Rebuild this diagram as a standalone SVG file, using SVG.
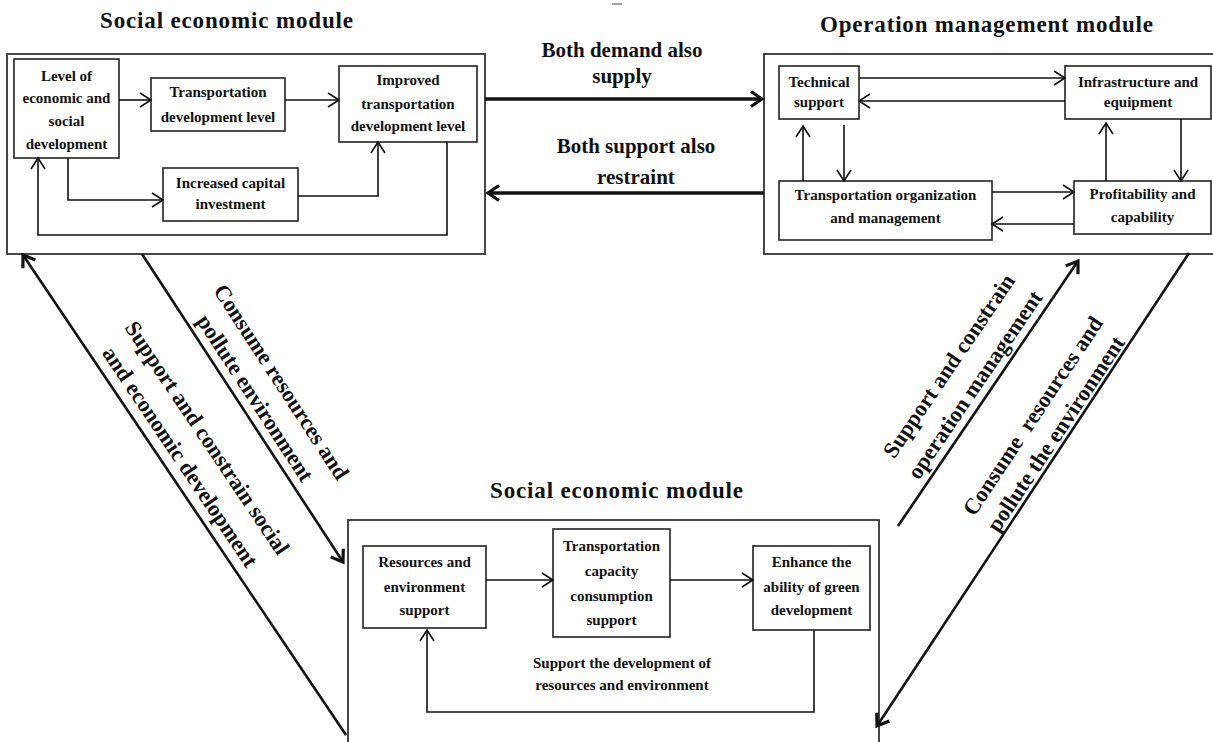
<svg xmlns="http://www.w3.org/2000/svg" width="1213" height="742" viewBox="0 0 1213 742">
<style>
  .box { fill: #fff; stroke: #222; stroke-width: 1.6; }
  .outer { fill: none; stroke: #333; stroke-width: 1.8; }
  .t { font-family: "Liberation Serif", "Times New Roman", serif; font-weight: bold; font-size: 15px; fill: #111; text-anchor: middle; }
  .title { font-family: "Liberation Serif", "Times New Roman", serif; font-weight: bold; font-size: 23px; fill: #111; text-anchor: middle; }
  .mid { font-family: "Liberation Serif", "Times New Roman", serif; font-weight: bold; font-size: 21px; fill: #111; text-anchor: middle; }
  .diag { font-family: "Liberation Serif", "Times New Roman", serif; font-weight: bold; font-size: 22.5px; fill: #111; text-anchor: middle; }
  .c { fill: none; stroke: #111; stroke-width: 1.6; }
  .thick { fill: none; stroke: #111; stroke-width: 3.5; }
  .dg { fill: none; stroke: #111; stroke-width: 2.6; }
</style>
<defs>
  <marker id="a" markerUnits="userSpaceOnUse" markerWidth="16" markerHeight="18" refX="0" refY="0" orient="auto" overflow="visible">
    <path d="M-11,-7 L0,0 L-11,7" fill="none" stroke="#111" stroke-width="1.6"/>
  </marker>
  <marker id="b" markerUnits="userSpaceOnUse" markerWidth="16" markerHeight="18" refX="0" refY="0" orient="auto" overflow="visible">
    <path d="M-11,-7.5 L0,0 L-11,7.5" fill="none" stroke="#111" stroke-width="3.2"/>
  </marker>
</defs>
<rect width="1213" height="742" fill="#fff"/>

<line x1="612" y1="4" x2="622" y2="4" stroke="#666" stroke-width="1.2"/>

<!-- Titles -->
<text class="title" x="226.5" y="28" textLength="253" lengthAdjust="spacing">Social economic module</text>
<text class="title" x="986.5" y="32" textLength="333" lengthAdjust="spacing">Operation management module</text>
<text class="title" x="616.5" y="498" textLength="253" lengthAdjust="spacing">Social economic module</text>

<!-- Module frames -->
<g id="module-social-top">
  <rect class="outer" x="7" y="54" width="478" height="200"/>
</g>
<g id="module-operation">
  <rect class="outer" x="764" y="54" width="452" height="200"/>
</g>
<g id="module-social-bottom">
  <rect class="outer" x="348" y="520" width="531" height="240"/>
</g>

<!-- Top-left nodes -->
<g id="n-level">
  <rect class="box" x="14" y="59" width="105" height="99"/>
  <text class="t" x="66.5" y="81">Level of</text>
  <text class="t" x="66.5" y="103">economic and</text>
  <text class="t" x="66.5" y="126">social</text>
  <text class="t" x="66.5" y="149">development</text>
</g>
<g id="n-transdev">
  <rect class="box" x="151" y="78" width="134" height="53"/>
  <text class="t" x="218" y="97">Transportation</text>
  <text class="t" x="218" y="122">development level</text>
</g>
<g id="n-improved">
  <rect class="box" x="339" y="66" width="138" height="76"/>
  <text class="t" x="408" y="85">Improved</text>
  <text class="t" x="408" y="109">transportation</text>
  <text class="t" x="408" y="131">development level</text>
</g>
<g id="n-capital">
  <rect class="box" x="163" y="168" width="135" height="53"/>
  <text class="t" x="230.5" y="188">Increased capital</text>
  <text class="t" x="230.5" y="209">investment</text>
</g>

<!-- Top-right nodes -->
<g id="n-tech">
  <rect class="box" x="779" y="66" width="80" height="53"/>
  <text class="t" x="819" y="87">Technical</text>
  <text class="t" x="819" y="107">support</text>
</g>
<g id="n-infra">
  <rect class="box" x="1065" y="66" width="146" height="53"/>
  <text class="t" x="1138" y="87">Infrastructure and</text>
  <text class="t" x="1138" y="107">equipment</text>
</g>
<g id="n-transorg">
  <rect class="box" x="779" y="181" width="213" height="59"/>
  <text class="t" x="885.5" y="200">Transportation organization</text>
  <text class="t" x="885.5" y="223">and management</text>
</g>
<g id="n-profit">
  <rect class="box" x="1074" y="181" width="137" height="53"/>
  <text class="t" x="1142.5" y="199">Profitability and</text>
  <text class="t" x="1142.5" y="222">capability</text>
</g>

<!-- Bottom nodes -->
<g id="n-resources">
  <rect class="box" x="363" y="546" width="123" height="82"/>
  <text class="t" x="424.5" y="567">Resources and</text>
  <text class="t" x="424.5" y="592">environment</text>
  <text class="t" x="424.5" y="615">support</text>
</g>
<g id="n-capacity">
  <rect class="box" x="553" y="529" width="117" height="108"/>
  <text class="t" x="611.5" y="551">Transportation</text>
  <text class="t" x="611.5" y="576">capacity</text>
  <text class="t" x="611.5" y="601">consumption</text>
  <text class="t" x="611.5" y="625">support</text>
</g>
<g id="n-green">
  <rect class="box" x="753" y="546" width="117" height="84"/>
  <text class="t" x="811.5" y="567">Enhance the</text>
  <text class="t" x="811.5" y="592">ability of green</text>
  <text class="t" x="811.5" y="615">development</text>
</g>

<!-- Connectors -->
<g id="connectors">
  <path class="c" d="M119,100 H151" marker-end="url(#a)"/>
  <path class="c" d="M285,100 H339" marker-end="url(#a)"/>
  <path class="c" d="M68,158 V200 H163" marker-end="url(#a)"/>
  <path class="c" d="M298,196 H378 V142" marker-end="url(#a)"/>
  <path class="c" d="M447,142 V235 H38 V158" marker-end="url(#a)"/>

  <path class="c" d="M859,78 H1065" marker-end="url(#a)"/>
  <path class="c" d="M1065,101 H859" marker-end="url(#a)"/>
  <path class="c" d="M803,181 V126" marker-end="url(#a)"/>
  <path class="c" d="M844,125 V181" marker-end="url(#a)"/>
  <path class="c" d="M992,192 H1074" marker-end="url(#a)"/>
  <path class="c" d="M1074,224 H992" marker-end="url(#a)"/>
  <path class="c" d="M1106,181 V123" marker-end="url(#a)"/>
  <path class="c" d="M1181,119 V181" marker-end="url(#a)"/>

  <path class="c" d="M486,580 H553" marker-end="url(#a)"/>
  <path class="c" d="M670,580 H753" marker-end="url(#a)"/>
  <path class="c" d="M814,630 V712 H427 V630" marker-end="url(#a)"/>

  <path class="thick" d="M485,99 H762" marker-end="url(#b)"/>
  <path class="thick" d="M764,193 H488" marker-end="url(#b)"/>

  <path class="dg" d="M142,254 L343,562" marker-end="url(#b)"/>
  <path class="dg" d="M346,735 L23,255" marker-end="url(#b)"/>
  <path class="dg" d="M898,526 L1078,261" marker-end="url(#b)"/>
  <path class="dg" d="M1189,253 L877,726" marker-end="url(#b)"/>
</g>

<!-- Connector labels -->
<text class="mid" x="622" y="57">Both demand also</text>
<text class="mid" x="622" y="83">supply</text>
<text class="mid" x="636" y="153">Both support also</text>
<text class="mid" x="636" y="184">restraint</text>
<text class="t" x="622" y="668">Support the development of</text>
<text class="t" x="622" y="690">resources and environment</text>

<text class="diag" transform="translate(275,386) rotate(56.9)">Consume resources and</text>
<text class="diag" transform="translate(249,402) rotate(56.9)">pollute environment</text>
<text class="diag" transform="translate(201,442) rotate(56.1)">Support and constrain social</text>
<text class="diag" transform="translate(174,461) rotate(56.1)">and economic development</text>
<text class="diag" transform="translate(955,370) rotate(-55.8)">Support and constrain</text>
<text class="diag" transform="translate(981,389) rotate(-55.8)">operation management</text>
<text class="diag" xml:space="preserve" transform="translate(1039,420) rotate(-56.3)">Consume  resources and</text>
<text class="diag" transform="translate(1062,438) rotate(-56.3)">pollute the environment</text>
</svg>
